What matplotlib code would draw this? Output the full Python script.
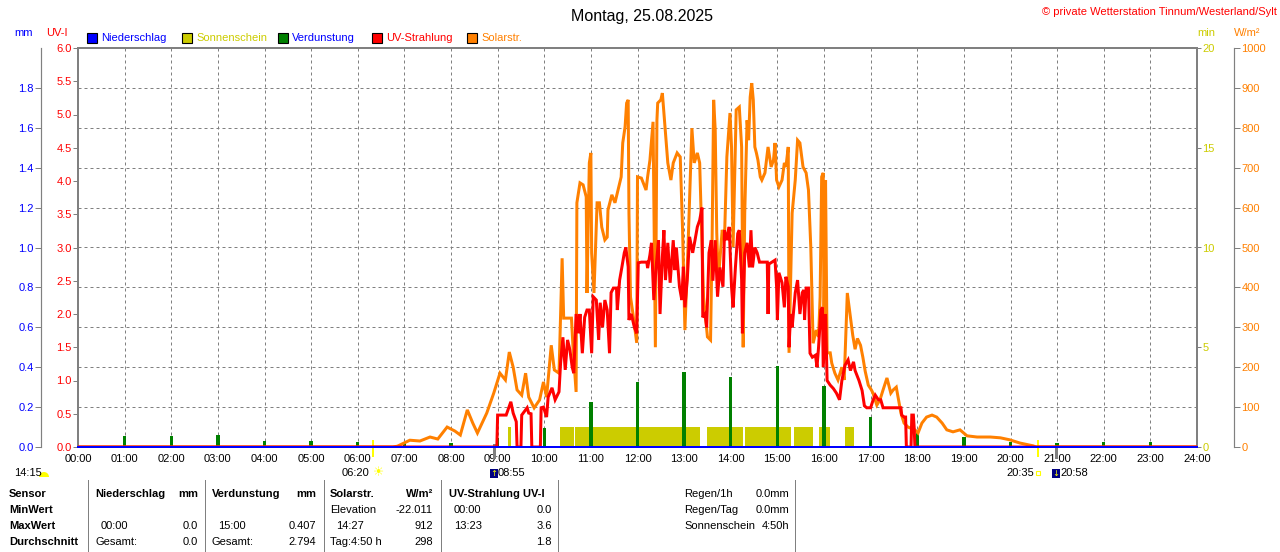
import matplotlib
matplotlib.use("Agg")
import matplotlib.pyplot as plt
import matplotlib.patches as mpatches
import matplotlib.transforms as mtrans
from matplotlib.lines import Line2D
from matplotlib.ticker import MultipleLocator, FixedLocator, FuncFormatter
import numpy as np

plt.rcParams['font.family'] = ['Liberation Sans', 'DejaVu Sans']
plt.rcParams['font.size'] = 8

# ---------------- data ----------------
title = "Montag, 25.08.2025"
copyright_text = "© private Wetterstation Tinnum/Westerland/Sylt"

hour_labels = ["%02d:00" % h for h in range(25)]

solar_times = ["00:00", "06:45", "06:51", "07:07", "07:20", "07:33", "07:43", "07:55", "08:05", "08:12",
               "08:21", "08:28", "08:34", "08:46", "08:55", "09:03", "09:10", "09:15", "09:20", "09:25",
               "09:31", "09:36", "09:40", "09:47", "09:54", "09:59", "10:03", "10:09", "10:13", "10:19",
               "10:23", "10:25", "10:35", "10:37", "10:41", "10:42", "10:46", "10:50", "10:54", "10:55",
               "10:58", "11:00", "11:01", "11:04", "11:08", "11:11", "11:14", "11:18", "11:21", "11:22",
               "11:27", "11:31", "11:35", "11:39", "11:41", "11:44", "11:46", "11:48", "11:49", "11:51",
               "11:54", "11:59", "12:00", "12:05", "12:11", "12:13", "12:16", "12:20", "12:23", "12:25",
               "12:26", "12:30", "12:32", "12:34", "12:36", "12:39", "12:43", "12:46", "12:51", "12:55",
               "12:58", "13:01", "13:05", "13:10", "13:13", "13:17", "13:20", "13:25", "13:30", "13:34",
               "13:36", "13:38", "13:40", "13:42", "13:44", "13:49", "13:52", "13:55", "13:59", "14:01",
               "14:03", "14:05", "14:07", "14:11", "14:14", "14:16", "14:18", "14:21", "14:23", "14:25",
               "14:27", "14:29", "14:31", "14:33", "14:35", "14:38", "14:40", "14:44", "14:48", "14:52",
               "14:55", "14:57", "14:59", "15:02", "15:06", "15:09", "15:11", "15:14", "15:15", "15:19",
               "15:23", "15:26", "15:29", "15:33", "15:37", "15:40", "15:43", "15:46", "15:50", "15:53",
               "15:55", "15:57", "15:59", "16:00", "16:02", "16:04", "16:08", "16:10", "16:14", "16:18",
               "16:23", "16:26", "16:30", "16:33", "16:37", "16:40", "16:43", "16:47", "16:50", "16:53",
               "16:57", "17:01", "17:03", "17:08", "17:12", "17:16", "17:21", "17:26", "17:29", "17:33",
               "17:36", "17:39", "17:43", "17:48", "17:57", "18:01", "18:06", "18:12", "18:19", "18:25",
               "18:32", "18:38", "18:46", "18:55", "19:04", "19:17", "19:34", "19:47", "19:59", "20:12",
               "20:29", "20:33", "24:00"]
solar_values = [0, 0, 2, 17, 15, 25, 20, 50, 40, 30,
                93, 60, 35, 85, 135, 185, 168, 238, 200, 143,
                130, 185, 125, 98, 118, 163, 125, 255, 193, 185,
                473, 323, 323, 250, 138, 612, 662, 657, 627, 386,
                712, 737, 486, 386, 612, 612, 551, 519, 526, 594,
                632, 612, 644, 677, 762, 802, 862, 870, 586, 376,
                336, 261, 677, 674, 644, 677, 719, 815, 250, 819,
                862, 870, 887, 837, 787, 712, 669, 712, 737, 727,
                544, 293, 501, 799, 712, 737, 712, 376, 276, 268,
                519, 870, 795, 536, 418, 544, 526, 727, 837, 752,
                501, 669, 845, 852, 752, 250, 586, 819, 769, 877,
                912, 870, 752, 737, 719, 677, 669, 687, 752, 702,
                719, 762, 669, 652, 669, 712, 702, 752, 236, 586,
                669, 769, 762, 702, 687, 644, 501, 260, 293, 276,
                376, 677, 687, 300, 669, 236, 236, 210, 185, 168,
                200, 168, 386, 340, 280, 245, 272, 255, 225, 190,
                155, 143, 135, 105, 118, 143, 173, 135, 143, 150,
                118, 85, 60, 50, 43, 35, 60, 75, 80, 75,
                60, 43, 38, 43, 28, 25, 25, 23, 18, 10,
                3, 0, 0]

uv_times = ["00:00", "08:59", "09:00", "09:11", "09:17", "09:20", "09:24", "09:25", "09:30", "09:31",
            "09:38", "09:40", "09:43", "09:44", "09:55", "09:56", "09:59", "10:03", "10:05", "10:10",
            "10:14", "10:19", "10:21", "10:24", "10:27", "10:30", "10:33", "10:36", "10:38", "10:41",
            "10:44", "10:46", "10:49", "10:52", "10:55", "10:58", "11:01", "11:03", "11:07", "11:10",
            "11:12", "11:15", "11:18", "11:21", "11:24", "11:26", "11:29", "11:33", "11:34", "11:37",
            "11:40", "11:43", "11:45", "11:48", "11:49", "11:52", "11:56", "11:59", "12:01", "12:05",
            "12:12", "12:13", "12:16", "12:18", "12:21", "12:24", "12:27", "12:29", "12:32", "12:34",
            "12:36", "12:39", "12:42", "12:46", "12:48", "12:50", "12:54", "12:57", "12:59", "13:01",
            "13:04", "13:07", "13:11", "13:14", "13:17", "13:20", "13:23", "13:24", "13:27", "13:29",
            "13:32", "13:35", "13:37", "13:40", "13:43", "13:46", "13:50", "13:52", "13:55", "13:58",
            "14:01", "14:03", "14:06", "14:09", "14:11", "14:14", "14:15", "14:18", "14:21", "14:24",
            "14:26", "14:28", "14:31", "14:34", "14:37", "14:47", "14:48", "14:49", "14:57", "14:59",
            "15:00", "15:02", "15:06", "15:09", "15:11", "15:14", "15:15", "15:17", "15:19", "15:23",
            "15:26", "15:29", "15:32", "15:34", "15:35", "15:37", "15:40", "15:42", "15:45", "15:49",
            "15:51", "15:53", "15:56", "15:58", "15:59", "16:02", "16:04", "16:08", "16:12", "16:16",
            "16:20", "16:23", "16:27", "16:31", "16:34", "16:38", "16:40", "16:45", "16:49", "16:52",
            "16:55", "17:00", "17:03", "17:06", "17:10", "17:13", "17:16", "17:39", "17:40", "17:43",
            "17:45", "17:46", "17:52", "17:53", "17:55", "17:56", "17:57", "24:00"]
uv_values = [0, 0, 0.48, 0.48, 0.68, 0.51, 0.38, 0, 0, 0.48,
             0.59, 0.51, 0.50, 0, 0, 0.59, 0.60, 0.45, 0.75, 0.89,
             0.71, 0.83, 1.26, 1.65, 1.16, 1.61, 1.46, 1.20, 1.11, 2.00,
             1.71, 2.00, 1.41, 1.95, 2.06, 2.06, 1.41, 2.26, 2.21, 1.61,
             2.17, 1.80, 2.21, 2.06, 1.41, 2.32, 2.39, 2.39, 2.06, 2.51,
             2.71, 2.92, 3.00, 2.71, 1.91, 2.00, 1.80, 1.71, 2.77, 2.78,
             2.78, 2.69, 2.89, 3.07, 2.21, 2.71, 3.11, 2.00, 2.86, 3.26,
             2.51, 3.07, 2.47, 3.11, 2.66, 3.00, 2.41, 2.21, 2.71, 2.10,
             2.51, 3.16, 2.92, 3.11, 3.31, 3.41, 3.60, 1.95, 2.00, 1.80,
             2.92, 3.11, 2.50, 3.11, 2.26, 2.70, 2.41, 3.26, 3.11, 3.31,
             2.41, 2.10, 2.70, 3.21, 3.26, 2.51, 1.71, 2.92, 3.07, 2.70,
             3.26, 2.70, 3.00, 2.92, 2.78, 2.78, 2.00, 2.75, 2.81, 2.41,
             1.91, 2.62, 2.47, 2.10, 2.56, 2.41, 1.50, 2.00, 1.80, 2.32,
             2.51, 2.00, 2.32, 2.36, 1.91, 2.39, 2.39, 1.41, 1.35, 1.38,
             1.20, 1.50, 2.06, 2.10, 1.20, 2.00, 1.00, 0.93, 0.88, 0.81,
             0.71, 1.00, 1.23, 1.31, 1.15, 1.28, 1.15, 1.00, 0.85, 0.62,
             0.59, 0.59, 0.70, 0.78, 0.71, 0.71, 0.59, 0.59, 0.48, 0.45,
             0.45, 0, 0, 0.48, 0.48, 0.30, 0, 0]

evap_hours = list(range(1, 24))
evap_values = [0.055, 0.055, 0.06, 0.03, 0.03, 0.025, 0.025, 0.02, 0.045, 0.095,
               0.226, 0.326, 0.376, 0.351, 0.407, 0.306, 0.150, 0.070, 0.050, 0.025,
               0.020, 0.025, 0.025]

sun_start = ["09:13", "10:20", "10:40", "13:29", "14:18", "15:22", "15:53", "16:27"]
sun_end   = ["09:17", "10:38", "13:20", "14:16", "15:17", "15:46", "16:08", "16:39"]
sun_minutes = [1, 1, 1, 1, 1, 1, 1, 1]

precip_hours = list(range(25))
precip_values = [0] * 25

sunrise, sunset, daylength = "06:20", "20:35", "14:15"
moonrise, moonset = "08:55", "20:58"

uv_ticks = [i * 0.5 for i in range(13)]
mm_ticks = [i * 0.2 for i in range(10)]
min_ticks = [0, 5, 10, 15, 20]
w_ticks = [i * 100 for i in range(11)]

table_rows = [
    ["Sensor", "Niederschlag", "mm", "Verdunstung", "mm", "Solarstr.", "W/m²", "UV-Strahlung UV-I"],
    ["MinWert", "", "", "", "", "Elevation", "-22.011", "00:00", "0.0"],
    ["MaxWert", "00:00", "0.0", "15:00", "0.407", "14:27", "912", "13:23", "3.6"],
    ["Durchschnitt", "Gesamt:", "0.0", "Gesamt:", "2.794", "Tag:4:50 h", "298", "", "1.8"],
]
side_rows = [["Regen/1h", "0.0mm"], ["Regen/Tag", "0.0mm"], ["Sonnenschein", "4:50h"]]

# ---------------- helpers ----------------
def hm(s):
    h, m = s.split(":")
    return int(h) + int(m) / 60.0

W, H = 1280, 552
GRAY = "#808080"
BLUE = "#0000ff"
RED = "#ff0000"
YEL = "#cccc00"
ORA = "#ff8000"
GRN = "#008000"
PX = 72.0 / 100.0  # points per pixel

fig = plt.figure(figsize=(W / 100, H / 100), dpi=100)
fig.patch.set_facecolor("white")

def ftxt(x, y, s, **kw):
    kw.setdefault("va", "center")
    kw.setdefault("ha", "left")
    return fig.text(x / W, 1 - y / H, s, **kw)

L, R, B, T = 78, 1197, 447, 48
rect = [L / W, 1 - B / H, (R - L) / W, (B - T) / H]

ax_min = fig.add_axes(rect)
ax_mm = ax_min.twinx()
ax_w = ax_min.twinx()
ax_uv = ax_min.twinx()
ax_p = ax_min.twinx()

for a in (ax_min, ax_mm, ax_w, ax_uv, ax_p):
    a.set_xlim(0, 24)
    a.patch.set_visible(False)
ax_min.patch.set_visible(True)
ax_min.patch.set_facecolor("white")

# frame
for k, sp in ax_min.spines.items():
    sp.set_color(GRAY)
    sp.set_linewidth(2 * PX)
for a in (ax_mm, ax_w, ax_uv, ax_p):
    for sp in a.spines.values():
        sp.set_visible(False)

# x axis
ax_min.xaxis.set_major_locator(FixedLocator(list(range(25))))
ax_min.set_xticklabels(hour_labels)
ax_min.tick_params(axis="x", length=0, pad=5, labelsize=8, colors="black")
ax_min.grid(axis="x", which="major", color=GRAY, linestyle=(0, (3, 3)), linewidth=1 * PX)

# minutes axis (sunshine), right spine
ax_min.set_ylim(0, 20)
ax_min.yaxis.tick_right()
ax_min.yaxis.set_major_locator(FixedLocator(min_ticks))
ax_min.yaxis.set_major_formatter(FuncFormatter(lambda v, p: "%d" % v))
ax_min.yaxis.set_minor_locator(MultipleLocator(2))
ax_min.yaxis.remove_overlapping_locs = False
ax_min.tick_params(axis="y", which="major", length=4 * PX, width=1 * PX, color=GRAY,
                   labelcolor=YEL, labelsize=8, pad=1)
ax_min.tick_params(axis="y", which="minor", length=0)
ax_min.grid(axis="y", which="minor", color=GRAY, linestyle=(0, (3, 3)), linewidth=1 * PX)
ax_min.set_axisbelow(True)

sx = [hm(s) for s in sun_start]
sw = [hm(e) - hm(s) for s, e in zip(sun_start, sun_end)]
ax_min.bar(sx, sun_minutes, width=sw, align="edge", color=YEL, linewidth=0, zorder=2)

# mm axis (evaporation), outer left
ax_mm.set_ylim(0, 2.0)
ax_mm.yaxis.tick_left()
ax_mm.spines["left"].set_visible(True)
ax_mm.spines["left"].set_position(("outward", 37 * PX))
ax_mm.spines["left"].set_color(GRAY)
ax_mm.spines["left"].set_linewidth(1.2 * PX)
ax_mm.yaxis.set_major_locator(FixedLocator(mm_ticks))
ax_mm.yaxis.set_major_formatter(FuncFormatter(lambda v, p: "%.1f" % v))
ax_mm.tick_params(axis="y", length=6 * PX, width=1 * PX, color=GRAY, labelcolor=BLUE,
                  labelsize=8, pad=1)
ax_mm.bar(evap_hours, evap_values, width=0.075, color=GRN, linewidth=0)

# W/m2 axis, outer right
ax_w.set_ylim(0, 1000)
ax_w.yaxis.tick_right()
ax_w.spines["right"].set_visible(True)
ax_w.spines["right"].set_position(("outward", 37 * PX))
ax_w.spines["right"].set_color(GRAY)
ax_w.spines["right"].set_linewidth(1.2 * PX)
ax_w.yaxis.set_major_locator(FixedLocator(w_ticks))
ax_w.yaxis.set_major_formatter(FuncFormatter(lambda v, p: "%d" % v))
ax_w.tick_params(axis="y", length=6 * PX, width=1 * PX, color=GRAY, labelcolor=ORA,
                 labelsize=8, pad=1)
ax_w.plot([hm(t) for t in solar_times], solar_values, color=ORA, linewidth=3 * PX,
          solid_joinstyle="miter")

# UV axis, main left
ax_uv.set_ylim(0, 6.0)
ax_uv.yaxis.tick_left()
ax_uv.yaxis.set_major_locator(FixedLocator(uv_ticks))
ax_uv.yaxis.set_major_formatter(FuncFormatter(lambda v, p: "%.1f" % v))
ax_uv.tick_params(axis="y", length=5 * PX, width=1 * PX, color=GRAY, labelcolor=RED,
                  labelsize=8, pad=1)
ax_uv.plot([hm(t) for t in uv_times], uv_values, color=RED, linewidth=3 * PX,
           solid_joinstyle="miter")

# precipitation (blue line on top)
ax_p.set_ylim(0, 2.0)
ax_p.set_yticks([])
ax_p.plot(precip_hours, precip_values, color=BLUE, linewidth=2 * PX, clip_on=False)

# sunrise / sunset / moon markers on x axis
trans = mtrans.blended_transform_factory(ax_min.transData, ax_min.transAxes)
for t in (sunrise, sunset):
    ax_min.add_line(Line2D([hm(t), hm(t)], [0.015, -0.023], transform=trans, color="#ffff00",
                           linewidth=2 * PX, clip_on=False, zorder=5))
for t in (moonrise, moonset):
    ax_min.add_line(Line2D([hm(t), hm(t)], [0.005, -0.025], transform=trans, color=GRAY,
                           linewidth=3 * PX, clip_on=False, zorder=5))

def hx(t):
    return L + hm(t) / 24.0 * (R - L)

ID = mtrans.IdentityTransform()
# day length
ftxt(14, 473, daylength, fontsize=8)
fig.add_artist(mpatches.Wedge((44, H - 477), 5, 0, 180, transform=ID, facecolor="#ffff00",
                              edgecolor="none"))
# sunrise
ftxt(hx(sunrise) - 4, 473, sunrise, fontsize=8, ha="right")
ftxt(hx(sunrise) + 5, 473, "☀", fontsize=9, ha="center", color="#ffff00", family="DejaVu Sans")
# moonrise
mx = hx(moonrise)
fig.add_artist(mpatches.Rectangle((mx - 4, H - 478), 8, 9, transform=ID, facecolor="#000080",
                                  edgecolor="none"))
ftxt(mx, 474, "↑", fontsize=6, ha="center", color="#ffff00", family="DejaVu Sans")
ftxt(mx + 4, 473, moonrise, fontsize=8)
# sunset
ftxt(hx(sunset) - 4, 473, sunset, fontsize=8, ha="right")
fig.add_artist(mpatches.Rectangle((hx(sunset) - 2, H - 475), 4, 4, transform=ID,
                                  facecolor="white", edgecolor="#ffff00", linewidth=0.8))
# moonset
mx = hx(moonset)
fig.add_artist(mpatches.Rectangle((mx - 4, H - 478), 8, 9, transform=ID, facecolor="#000080",
                                  edgecolor="none"))
ftxt(mx, 473, "↓", fontsize=6, ha="center", color="#ffff00", family="DejaVu Sans")
ftxt(mx + 5, 473, moonset, fontsize=8)

# titles and axis units
ftxt(642, 16, title, fontsize=11.5, ha="center")
ftxt(1277, 12, copyright_text, fontsize=8, ha="right", color=RED)
ftxt(14, 33, "mm", fontsize=8, color=BLUE)
ftxt(46, 33, "UV-I", fontsize=8, color=RED)
ftxt(1197, 33, "min", fontsize=8, color=YEL)
ftxt(1234, 33, "W/m²", fontsize=8, color=ORA)

# legend
legend_items = [("Niederschlag", BLUE, BLUE, 87), ("Sonnenschein", YEL, YEL, 182),
                ("Verdunstung", GRN, BLUE, 278), ("UV-Strahlung", RED, RED, 372),
                ("Solarstr.", ORA, ORA, 467)]
for name, fc, tc, x in legend_items:
    fig.add_artist(mpatches.Rectangle((x, H - 43), 10, 10, transform=ID, facecolor=fc,
                                      edgecolor="black", linewidth=0.8))
    ftxt(x + 14, 38, name, fontsize=8, color=tc)

# table
row_y = [494, 510, 526, 542]
for x in (88, 205, 324, 441, 558, 795):
    fig.add_artist(Line2D([x, x], [H - 480, 0], transform=ID, color=GRAY, linewidth=1 * PX))
hdr = table_rows[0]
ftxt(9, row_y[0], hdr[0], fontweight="bold")
ftxt(95, row_y[0], hdr[1], fontweight="bold")
ftxt(198, row_y[0], hdr[2], fontweight="bold", ha="right")
ftxt(212, row_y[0], hdr[3], fontweight="bold")
ftxt(316, row_y[0], hdr[4], fontweight="bold", ha="right")
ftxt(330, row_y[0], hdr[5], fontweight="bold")
ftxt(433, row_y[0], hdr[6], fontweight="bold", ha="right")
ftxt(449, row_y[0], hdr[7], fontweight="bold")
cols = [(9, "left", True), (95, "left", False), (198, "right", False), (212, "left", False),
        (316, "right", False), (330, "left", False), (433, "right", False), (454, "left", False),
        (552, "right", False)]
for r, row in enumerate(table_rows[1:], start=1):
    for (x, ha, bold), s in zip(cols, row):
        if not s:
            continue
        xx = x
        if r == 2 and x in (95, 212, 330):
            xx = x + 6
        ftxt(xx, row_y[r], s, ha=ha, fontweight="bold" if bold else "normal")
for r, (a, b) in enumerate(side_rows):
    ftxt(684, row_y[r], a)
    ftxt(789, row_y[r], b, ha="right")

fig.savefig("out.png", dpi=100, facecolor="white")
